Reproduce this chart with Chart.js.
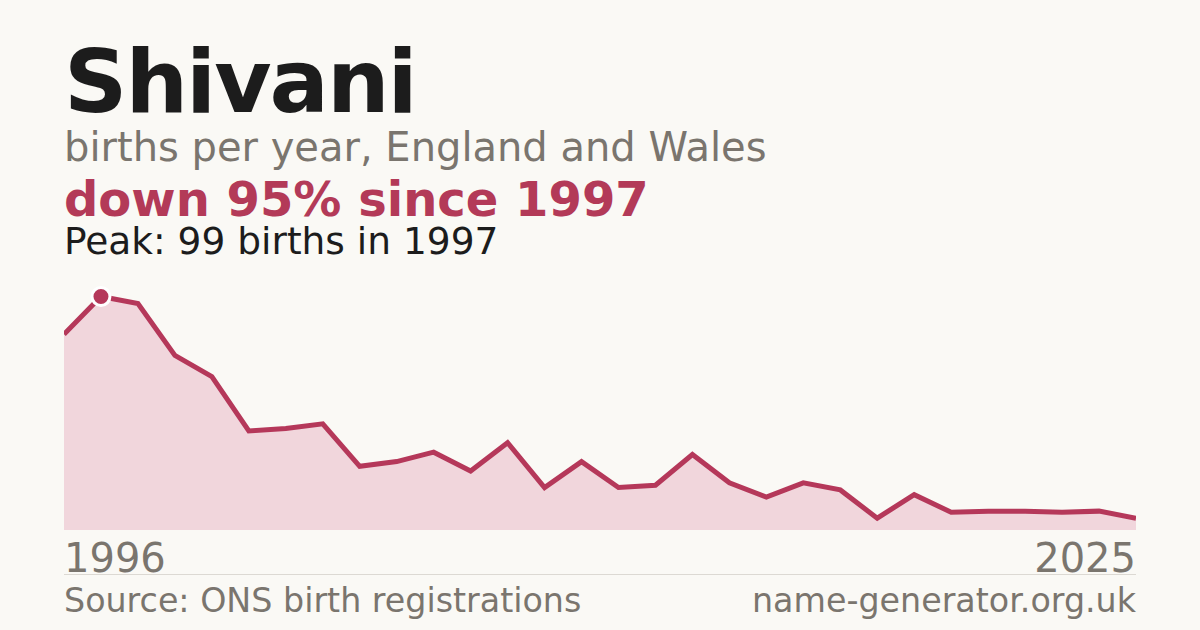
<!DOCTYPE html>
<html>
<head>
<meta charset="utf-8">
<script src="https://cdn.jsdelivr.net/npm/chart.js@4/dist/chart.umd.min.js"></script>
<style>
  html, body { margin: 0; padding: 0; }
  body {
    width: 1200px; height: 630px; overflow: hidden; position: relative;
    background: #faf9f5; font-family: "DejaVu Sans", sans-serif;
  }
  .t { position: absolute; left: 64px; line-height: 1; white-space: nowrap; }
  #title { top: 38px; font-size: 88px; font-weight: bold; color: #1c1c1c; letter-spacing: -2px; }
  #sub { top: 127px; font-size: 40px; color: #7a756e; }
  #change { top: 175px; font-size: 48px; font-weight: bold; color: #b33a58; }
  #peak { top: 223px; font-size: 37.5px; color: #1c1c1c; }
  #yStart { top: 538px; font-size: 40px; color: #7a756e; }
  #yEnd { top: 538px; left: auto; right: 64px; font-size: 40px; color: #7a756e; }
  #rule { position: absolute; left: 64px; width: 1072px; top: 574px; height: 1px; background: #dcd9d3; }
  #source { top: 584px; font-size: 33.3px; color: #7a756e; }
  #site { top: 584px; left: auto; right: 64px; font-size: 33.3px; color: #7a756e; }
  #wrap { position: absolute; left: 64px; top: 280px; width: 1072px; height: 250px; }
</style>
</head>
<body>
<div class="t" id="title">Shivani</div>
<div class="t" id="sub">births per year, England and Wales</div>
<div class="t" id="change">down 95% since 1997</div>
<div class="t" id="peak">Peak: 99 births in 1997</div>
<div id="wrap"><canvas id="chart"></canvas></div>
<div class="t" id="yStart">1996</div>
<div class="t" id="yEnd">2025</div>
<div id="rule"></div>
<div class="t" id="source">Source: ONS birth registrations</div>
<div class="t" id="site">name-generator.org.uk</div>

<script>
// births per year, 1996-2025
const years = [1996, 1997, 1998, 1999, 2000, 2001, 2002, 2003, 2004, 2005,
               2006, 2007, 2008, 2009, 2010, 2011, 2012, 2013, 2014, 2015,
               2016, 2017, 2018, 2019, 2020, 2021, 2022, 2023, 2024, 2025];
const births = [83, 99, 96, 74, 65, 42, 43, 45, 27, 29,
                33, 25, 37, 18, 29, 18, 19, 32, 20, 14,
                20, 17, 5, 15, 7.5, 8, 8, 7.5, 8, 5];
const peakYear = 1997;

const lineColor = "#b5385a";

new Chart(document.getElementById("chart"), {
    type: "line",
    data: {
        labels: years,
        datasets: [{
            data: births,
            borderColor: lineColor,
            borderWidth: 5,
            backgroundColor: "#f1d6dc",
            fill: "origin",
            tension: 0,
            pointRadius: years.map(y => y === peakYear ? 9 : 0),
            pointBackgroundColor: lineColor,
            pointBorderColor: "#ffffff",
            pointBorderWidth: 3,
            clip: false
        }]
    },
    options: {
        responsive: true,
        maintainAspectRatio: false,
        animation: false,
        layout: { padding: 0 },
        plugins: { legend: { display: false }, tooltip: { enabled: false } },
        scales: {
            x: { display: false, offset: false },
            y: { display: false, min: 0, max: 106 }
        }
    }
});
</script>
</body>
</html>
